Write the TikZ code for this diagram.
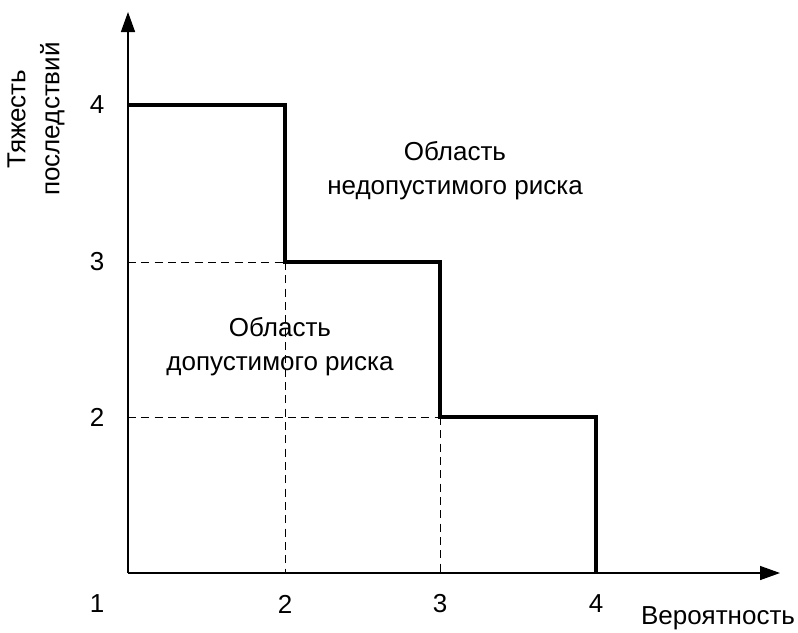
\documentclass[tikz,border=0pt]{standalone}
\usepackage{fontspec}
\setmainfont{Liberation Sans}
\usetikzlibrary{arrows.meta}
\begin{document}
\begin{tikzpicture}[x=0.75pt,y=-0.75pt,
  lbl/.style={font=\fontsize{19.5}{25.5}\selectfont, inner sep=0pt},
  axis/.style={line width=1.1pt, -{Triangle[length=15pt,width=10.5pt]}},
  stepline/.style={line width=3pt, line join=miter},
  guide/.style={line width=0.75pt, dash pattern=on 6pt off 4pt}]
\useasboundingbox (0,0) rectangle (798,632);
\coordinate (O) at (128,573);
\coordinate (ytip) at (128,12);
\coordinate (xtip) at (780,573);
\coordinate (a4) at (128,105);
\coordinate (b4) at (285,105);
\coordinate (b3) at (285,262);
\coordinate (c3) at (440,262);
\coordinate (c2) at (440,417);
\coordinate (d2) at (596,417);
\coordinate (d1) at (596,573);
\coordinate (a3) at (128,262);
\coordinate (a2) at (128,417);
\coordinate (b1) at (285,573);
\coordinate (c1) at (440,573);
% guides
\draw[guide] (a3) -- (b3);
\draw[guide] (a2) -- (c2);
\draw[guide] (b3) -- (b1);
\draw[guide] (c2) -- (c1);
% axes
\draw[axis] (O) -- (ytip);
\draw[axis] (O) -- (xtip);
% step boundary
\draw[stepline] (a4) -- (b4) -- (b3) -- (c3) -- (c2) -- (d2) -- (d1);
% tick labels
\node[lbl] (x1) at (97,604) {1};
\node[lbl] (x2) at (285,604) {2};
\node[lbl] (x3) at (440,604) {3};
\node[lbl] (x4) at (596,604) {4};
\node[lbl] (y4) at (97,105) {4};
\node[lbl] (y3) at (97,262) {3};
\node[lbl] (y2) at (97,417) {2};
% axis titles
\node[lbl] (xt) at (718,618) {Вероятность};
\node[lbl, rotate=90, align=center] (yt) at (36,119) {Тяжесть\\последствий};
% regions
\node[lbl, align=center] (bad) at (455,171) {Область\\недопустимого риска};
\node[lbl, align=center] (good) at (280,347) {Область\\допустимого риска};
\end{tikzpicture}
\end{document}
